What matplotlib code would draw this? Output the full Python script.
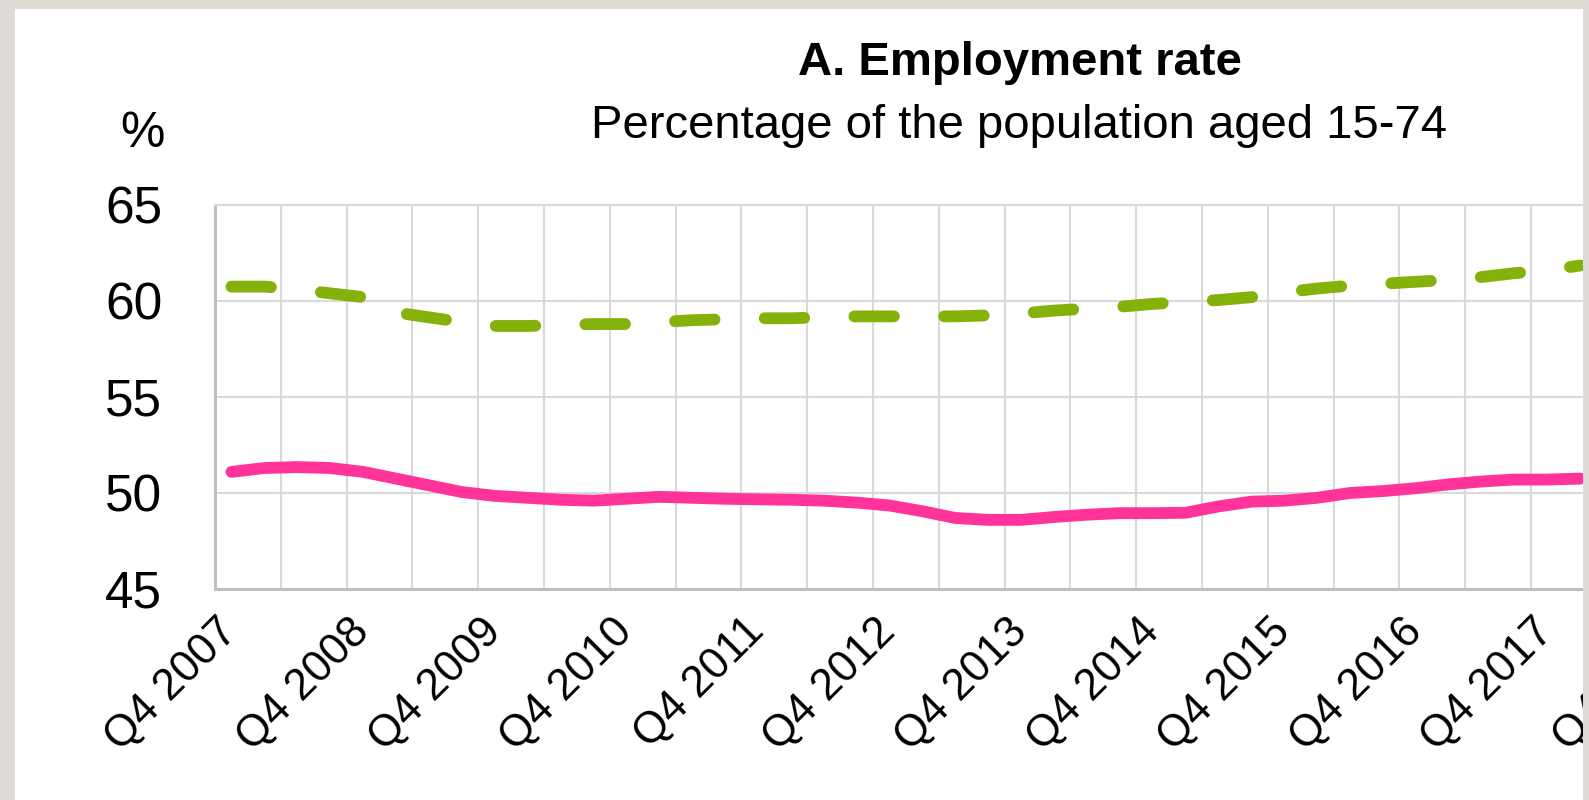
import numpy as np
import matplotlib
matplotlib.use("Agg")
import matplotlib.pyplot as plt
from matplotlib.patches import Rectangle

# quarterly series, Q4 2007 onwards
total_rate = [60.75, 60.75, 60.6, 60.4, 60.2, 59.4, 59.15, 58.9, 58.7, 58.7,
              58.75, 58.8, 58.8, 58.9, 59.0, 59.05, 59.1, 59.1, 59.15, 59.2,
              59.2, 59.2, 59.2, 59.25, 59.35, 59.5, 59.6, 59.7, 59.85, 59.95,
              60.05, 60.2, 60.45, 60.65, 60.8, 60.9, 61.0, 61.1, 61.25, 61.45,
              61.6, 61.85]
pink_rate = [51.1, 51.3, 51.35, 51.3, 51.1, 50.75, 50.4, 50.05, 49.85, 49.75,
             49.65, 49.6, 49.7, 49.8, 49.75, 49.7, 49.67, 49.65, 49.6, 49.5,
             49.35, 49.05, 48.7, 48.6, 48.6, 48.75, 48.87, 48.95, 48.95, 48.97,
             49.3, 49.55, 49.6, 49.75, 50.0, 50.1, 50.25, 50.45, 50.6, 50.7,
             50.7, 50.75]
year_labels = ["Q4 2007", "Q4 2008", "Q4 2009", "Q4 2010", "Q4 2011", "Q4 2012",
               "Q4 2013", "Q4 2014", "Q4 2015", "Q4 2016", "Q4 2017", "Q4 2018"]
y_ticks = [45, 50, 55, 60, 65]

W, H = 1589, 800
font = ["Liberation Sans", "DejaVu Sans"]
plt.rcParams["font.family"] = font

fig = plt.figure(figsize=(W / 100, H / 100), dpi=100)
fig.patch.set_facecolor("white")

# axes run past the right edge, the screenshot is cropped there
x_px = 32.9  # pixels per quarter
n_slots = 46
ax = fig.add_axes([215 / W, 211 / H, n_slots * x_px / W, 384 / H])

x = np.arange(len(total_rate))
ax.plot(x, pink_rate, color="#ff3399", lw=8.5, solid_capstyle="round",
        solid_joinstyle="round", zorder=3)
ax.plot(x, total_rate, color="#84b20a", lw=8.5, linestyle=(0, (3.35, 4.25)),
        dash_capstyle="round", zorder=3)

ax.set_xlim(-0.5, n_slots - 0.5)
ax.set_ylim(45, 65)

ax.set_yticks(y_ticks)
ax.set_yticklabels([str(v) for v in y_ticks])
ax.set_xticks(np.arange(len(year_labels)) * 4)
ax.set_xticklabels(year_labels, rotation=45, ha="right", va="center",
                   rotation_mode="anchor")
ax.set_xticks(np.arange(1.5, n_slots, 2), minor=True)

ax.tick_params(axis="y", length=0, pad=38, labelsize=37)
ax.tick_params(axis="x", which="both", length=0, pad=26, labelsize=31.5)

ax.grid(True, axis="y", color="#d9d9d9", lw=1.5)
ax.grid(True, axis="x", which="minor", color="#d9d9d9", lw=1.5)
ax.grid(False, axis="x", which="major")
ax.set_axisbelow(True)
for side in ["left", "bottom"]:
    ax.spines[side].set_color("#bfbfbf")
    ax.spines[side].set_linewidth(2.2)
ax.spines["top"].set_color("#d9d9d9")
ax.spines["top"].set_linewidth(1.5)
ax.spines["right"].set_visible(False)

fig.text(1020 / W, 1 - 75 / H, "A. Employment rate", ha="center",
         va="baseline", fontsize=34, fontweight="bold")
fig.text(1019 / W, 1 - 138 / H, "Percentage of the population aged 15-74",
         ha="center", va="baseline", fontsize=34)
fig.text(142 / W, 1 - 147 / H, "%", ha="center", va="baseline", fontsize=36)

# grey screenshot frame
frame = "#dedbd7"
for (x0, y0, w, h) in [(0, 0, 15, H), (0, 0, W, 9), (1583, 0, 6, H)]:
    fig.add_artist(Rectangle((x0 / W, 1 - (y0 + h) / H), w / W, h / H,
                             transform=fig.transFigure, facecolor=frame,
                             edgecolor="none", zorder=10))

fig.savefig("out.png", dpi=100)
